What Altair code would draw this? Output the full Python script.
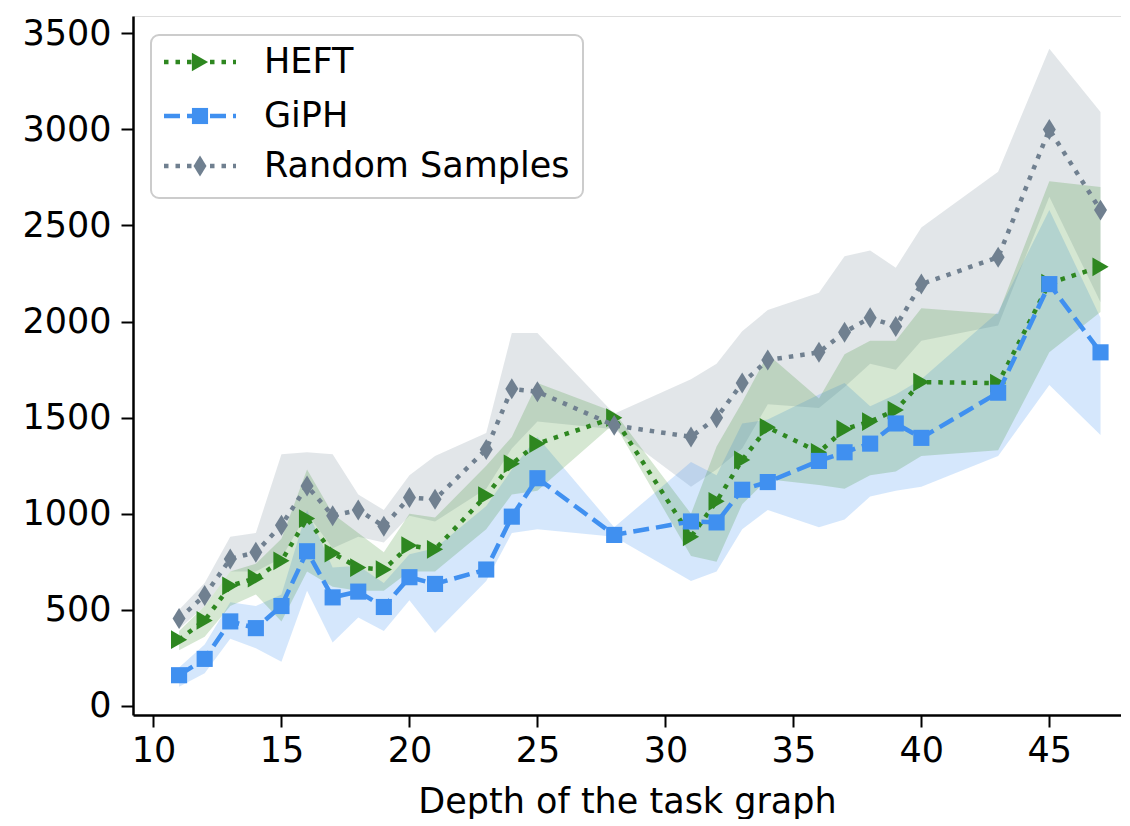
import altair as alt
import pandas as pd

depth = [11, 12, 13, 14, 15, 16, 17, 18, 19, 20, 21, 23, 24, 25, 28, 31, 32, 33, 34, 36, 37, 38, 39, 40, 43, 45, 47]

heft = [345, 445, 625, 665, 755, 975, 795, 720, 710, 835, 815, 1095, 1260, 1365, 1500, 880, 1065, 1280, 1450, 1320, 1440, 1480, 1540, 1685, 1680, 2200, 2285]
heft_lo = [290, 360, 520, 580, 440, 700, 620, 600, 600, 700, 700, 920, 1100, 1120, 1470, 780, 750, 1050, 1180, 1150, 1130, 1200, 1220, 1300, 1330, 1840, 2050]
heft_hi = [390, 520, 700, 740, 870, 1230, 1000, 900, 800, 1000, 980, 1250, 1400, 1680, 1530, 1000, 1350, 1580, 1830, 1600, 1830, 1900, 1900, 2070, 2040, 2730, 2700]

giph = [160, 245, 440, 405, 520, 805, 565, 595, 515, 670, 635, 710, 985, 1185, 890, 960, 955, 1125, 1165, 1275, 1320, 1365, 1470, 1395, 1630, 2195, 1840]
giph_lo = [100, 170, 350, 300, 230, 600, 330, 460, 390, 550, 380, 650, 900, 920, 880, 650, 700, 920, 1020, 930, 970, 1090, 1120, 1140, 1300, 1670, 1410]
giph_hi = [200, 320, 540, 520, 580, 1020, 720, 730, 640, 790, 820, 1040, 1230, 1400, 930, 1270, 1200, 1470, 1490, 1620, 1680, 1560, 1620, 1700, 2050, 2580, 2020]

rand = [455, 575, 765, 800, 940, 1145, 990, 1020, 935, 1085, 1075, 1335, 1650, 1635, 1460, 1400, 1500, 1680, 1800, 1840, 1945, 2020, 1975, 2195, 2335, 3000, 2580]
rand_lo = [400, 520, 700, 700, 770, 1000, 820, 880, 850, 990, 960, 1130, 1340, 1480, 1440, 1140, 1230, 1340, 1570, 1550, 1660, 1780, 1750, 1900, 1980, 2650, 2100]
rand_hi = [500, 640, 880, 900, 1310, 1320, 1310, 1100, 1020, 1200, 1300, 1420, 1940, 1940, 1520, 1700, 1780, 1950, 2060, 2150, 2340, 2370, 2280, 2490, 2780, 3420, 3090]

series_names = ["HEFT", "GiPH", "Random Samples"]
x_ticks = [10, 15, 20, 25, 30, 35, 40, 45]
y_ticks = [0, 500, 1000, 1500, 2000, 2500, 3000, 3500]

FONT = "DejaVu Sans"
FS = 35
C_HEFT = "#2e8720"
C_GIPH = "#4090f0"
C_RAND = "#708090"
DOT = [4.5, 7]
DASH = [16, 7]
THIN_DIAMOND = "M0,-1L0.62,0L0,1L-0.62,0Z"
S_TRI, S_SQ, S_DIA = 350, 260, 440

xscale = alt.Scale(domain=[9.2, 47.8], nice=False, zero=False)
yscale = alt.Scale(domain=[-47, 3590], nice=False, zero=False)

x_axis = alt.Axis(values=x_ticks, title="Depth of the task graph", grid=False,
                  tickSize=12, tickWidth=2, tickColor="black", domainColor="black",
                  domainWidth=2.5, labelFontSize=FS, titleFontSize=FS, labelFont=FONT,
                  titleFont=FONT, titleFontWeight="normal", labelColor="black",
                  titleColor="black", labelPadding=6, titlePadding=16, labelFlush=False,
                  format="d")
y_axis = alt.Axis(values=y_ticks, title=None, grid=False, format="d",
                  tickSize=12, tickWidth=2, tickColor="black", domainColor="black",
                  domainWidth=2.5, labelFontSize=FS, labelFont=FONT, labelColor="black",
                  labelPadding=10)


def frame(mean, lo, hi):
    return pd.DataFrame({"depth": depth, "mean": mean, "lo": lo, "hi": hi})


def X():
    return alt.X("depth:Q", scale=xscale, axis=x_axis)


def band(df, color, op):
    return alt.Chart(df).mark_area(color=color, opacity=op, interpolate="linear").encode(
        x=X(), y=alt.Y("lo:Q", scale=yscale, axis=y_axis), y2="hi:Q")


def line(df, color, dash):
    return alt.Chart(df).mark_line(color=color, strokeDash=dash, strokeWidth=4.5).encode(
        x=X(), y=alt.Y("mean:Q", scale=yscale, axis=y_axis))


def pts(df, color, shape, size):
    return alt.Chart(df).mark_point(color=color, shape=shape, size=size, filled=True,
                                    opacity=1).encode(
        x=X(), y=alt.Y("mean:Q", scale=yscale, axis=y_axis))


d_heft = frame(heft, heft_lo, heft_hi)
d_giph = frame(giph, giph_lo, giph_hi)
d_rand = frame(rand, rand_lo, rand_hi)

layers = [
    band(d_rand, C_RAND, 0.2),
    band(d_giph, C_GIPH, 0.22),
    band(d_heft, C_HEFT, 0.2),
    line(d_heft, C_HEFT, DOT), pts(d_heft, C_HEFT, "triangle-right", S_TRI),
    line(d_giph, C_GIPH, DASH), pts(d_giph, C_GIPH, "square", S_SQ),
    line(d_rand, C_RAND, DOT), pts(d_rand, C_RAND, THIN_DIAMOND, S_DIA),
]

# legend box
one = pd.DataFrame({"k": [0]})
layers.append(alt.Chart(one).mark_rect(fill="white", fillOpacity=0.85, stroke="#cccccc",
                                       strokeWidth=2, cornerRadius=8).encode(
    x=alt.value(18), x2=alt.value(450), y=alt.value(19), y2=alt.value(182)))

legend_specs = [
    (series_names[0], C_HEFT, DOT, "triangle-right", S_TRI, 46),
    (series_names[1], C_GIPH, DASH, "square", S_SQ, 100),
    (series_names[2], C_RAND, DOT, THIN_DIAMOND, S_DIA, 150),
]
for name, color, dash, shape, size, yy in legend_specs:
    layers.append(alt.Chart(one).mark_rule(color=color, strokeDash=dash, strokeWidth=4.5).encode(
        x=alt.value(31), x2=alt.value(103), y=alt.value(yy)))
    layers.append(alt.Chart(one).mark_point(color=color, shape=shape, size=size, filled=True,
                                            opacity=1).encode(
        x=alt.value(67), y=alt.value(yy)))
    layers.append(alt.Chart(one).mark_text(align="left", baseline="middle", fontSize=FS,
                                           font=FONT, color="black").encode(
        x=alt.value(131), y=alt.value(yy), text=alt.value(name)))

chart = alt.layer(*layers).properties(
    width=988, height=699,
    padding={"left": 13, "top": 8, "right": 0, "bottom": 0},
).configure_view(stroke=None).configure(background="white")

chart.save("out.html", embed_options={"renderer": "svg", "actions": False})
